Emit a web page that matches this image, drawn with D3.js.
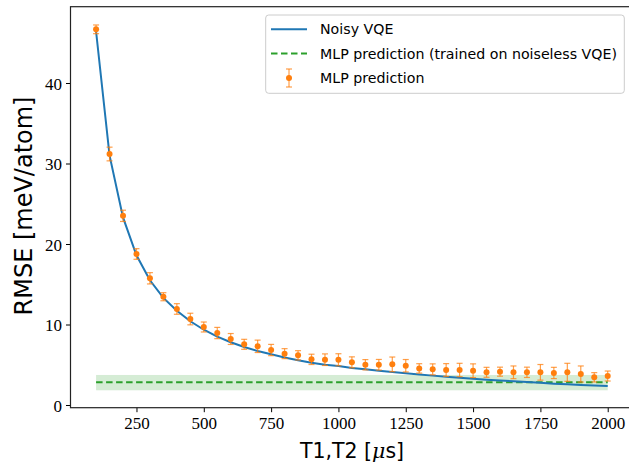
<!DOCTYPE html>
<html>
<head>
<meta charset="utf-8">
<script src="https://cdn.jsdelivr.net/npm/d3@7.9.0/dist/d3.min.js"></script>
<style>
  body { margin: 0; background: #fff; }
  .tick text { font-family: "Liberation Serif", serif; font-size: 17px; fill: #000; }
  .label { font-family: "DejaVu Sans", sans-serif; fill: #000; }
  .legend text { font-family: "DejaVu Sans", sans-serif; font-size: 14.2px; fill: #000; }
</style>
</head>
<body>
<svg id="chart" width="629" height="466"></svg>
<script>
// T1,T2 values [µs]
const times = [100, 150, 200, 250, 300, 350, 400, 450, 500, 550, 600, 650, 700, 750, 800,
  850, 900, 950, 1000, 1050, 1100, 1150, 1200, 1250, 1300, 1350, 1400, 1450, 1500, 1550,
  1600, 1650, 1700, 1750, 1800, 1850, 1900, 1950, 2000];

// Noisy VQE RMSE
const noisyVqe = [46.4, 31.0, 23.3, 18.6, 15.5, 13.3, 11.7, 10.4, 9.35, 8.5, 7.8, 7.2, 6.7,
  6.3, 5.9, 5.55, 5.25, 5.0, 4.85, 4.6, 4.45, 4.25, 4.1, 3.95, 3.8, 3.65, 3.5, 3.4, 3.25,
  3.15, 3.05, 2.95, 2.85, 2.75, 2.65, 2.58, 2.5, 2.43, 2.36];

// MLP prediction mean and std
const mlpMean = [46.67, 31.18, 23.5, 18.76, 15.74, 13.45, 11.93, 10.68, 9.69, 8.94, 8.2,
  7.54, 7.29, 6.83, 6.38, 6.17, 5.67, 5.63, 5.62, 5.3, 5.0, 5.0, 5.05, 4.88, 4.55, 4.43,
  4.35, 4.35, 4.26, 4.06, 4.14, 4.06, 4.06, 4.06, 3.98, 4.06, 3.85, 3.44, 3.6];
const mlpStd = [0.54, 0.85, 0.7, 0.66, 0.7, 0.5, 0.66, 0.72, 0.62, 0.7, 0.68, 0.62, 0.77,
  0.7, 0.62, 0.58, 0.64, 0.72, 0.75, 0.68, 0.64, 0.66, 0.91, 0.77, 0.58, 0.68, 0.79, 0.83,
  0.85, 0.62, 0.56, 0.79, 0.64, 0.97, 0.7, 1.12, 1.0, 0.58, 0.62];

// MLP trained on noiseless VQE: constant value and band
const noiselessMean = 2.82;
const noiselessBand = [1.83, 3.73];

const xTicks = [250, 500, 750, 1000, 1250, 1500, 1750, 2000];
const yTicks = [0, 10, 20, 30, 40];

const blue = '#1f77b4', orange = '#ff7f0e', green = '#2ca02c';

const svg = d3.select('#chart');
const x = d3.scaleLinear().domain([5, 2095]).range([70.5, 633.3]);
const y = d3.scaleLinear().domain([-0.335, 49.48]).range([407.7, 6.7]);

const data = times.map((t, i) => ({ t, vqe: noisyVqe[i], m: mlpMean[i], s: mlpStd[i] }));

// band + dashed line
const xExt = d3.extent(times);
svg.append('rect')
  .attr('x', x(xExt[0])).attr('width', x(xExt[1]) - x(xExt[0]))
  .attr('y', y(noiselessBand[1])).attr('height', y(noiselessBand[0]) - y(noiselessBand[1]))
  .attr('fill', green).attr('fill-opacity', 0.2);

svg.append('line')
  .attr('x1', x(xExt[0])).attr('x2', x(xExt[1]))
  .attr('y1', y(noiselessMean)).attr('y2', y(noiselessMean))
  .attr('stroke', green).attr('stroke-width', 2).attr('stroke-dasharray', '6.5,3.5');

// noisy VQE line
svg.append('path')
  .datum(data)
  .attr('fill', 'none').attr('stroke', blue).attr('stroke-width', 2)
  .attr('d', d3.line().x(d => x(d.t)).y(d => y(d.vqe)));

// error bars
const eb = svg.append('g').attr('stroke', orange).attr('stroke-width', 1.2).attr('stroke-opacity', 0.75);
eb.selectAll('.v').data(data).join('line')
  .attr('x1', d => x(d.t)).attr('x2', d => x(d.t))
  .attr('y1', d => y(d.m - d.s)).attr('y2', d => y(d.m + d.s));
eb.selectAll('.cap').data(data.flatMap(d => [d.m - d.s, d.m + d.s].map(v => ({ t: d.t, v }))))
  .join('line')
  .attr('x1', d => x(d.t) - 3).attr('x2', d => x(d.t) + 3)
  .attr('y1', d => y(d.v)).attr('y2', d => y(d.v));

svg.append('g').selectAll('circle').data(data).join('circle')
  .attr('cx', d => x(d.t)).attr('cy', d => y(d.m)).attr('r', 3)
  .attr('fill', orange);

// axes
const xAxis = svg.append('g').attr('transform', 'translate(0,407.7)')
  .call(d3.axisBottom(x).tickValues(xTicks).tickSize(4.5).tickPadding(5).tickFormat(d3.format('d')));
const yAxis = svg.append('g').attr('transform', 'translate(70.5,0)')
  .call(d3.axisLeft(y).tickValues(yTicks).tickSize(4.5).tickPadding(4).tickFormat(d3.format('d')));
[xAxis, yAxis].forEach(a => {
  a.select('.domain').remove();
  a.selectAll('.tick line').attr('stroke', '#000').attr('stroke-width', 1);
});
yAxis.selectAll('.tick text').attr('dy', '0.36em');

// frame
svg.append('rect')
  .attr('x', 70.5).attr('y', 6.7).attr('width', 633.3 - 70.5).attr('height', 407.7 - 6.7)
  .attr('fill', 'none').attr('stroke', '#222').attr('stroke-width', 1.2);

// axis labels
const xl = svg.append('text').attr('class', 'label')
  .attr('x', 352).attr('y', 458).attr('text-anchor', 'middle').attr('font-size', 20.5);
xl.append('tspan').text('T1,T2 [');
xl.append('tspan').attr('font-family', 'DejaVu Serif').attr('font-style', 'italic').text('μ');
xl.append('tspan').text('s]');

svg.append('text').attr('class', 'label')
  .attr('transform', 'translate(32,206) rotate(-90)')
  .attr('text-anchor', 'middle').attr('font-size', 24)
  .text('RMSE [meV/atom]');

// legend
const lg = svg.append('g').attr('class', 'legend');
lg.append('rect').attr('x', 265.7).attr('y', 15).attr('width', 358.6).attr('height', 78.3)
  .attr('rx', 3).attr('fill', '#fff').attr('fill-opacity', 0.8)
  .attr('stroke', '#ccc').attr('stroke-width', 1);
const rows = [29.2, 53.6, 78];
lg.append('line').attr('x1', 271).attr('x2', 307).attr('y1', rows[0]).attr('y2', rows[0])
  .attr('stroke', blue).attr('stroke-width', 2);
lg.append('line').attr('x1', 271).attr('x2', 307).attr('y1', rows[1]).attr('y2', rows[1])
  .attr('stroke', green).attr('stroke-width', 2).attr('stroke-dasharray', '6.5,3.5');
const lgEb = lg.append('g').attr('stroke', orange).attr('stroke-width', 1.2).attr('stroke-opacity', 0.75);
lgEb.append('line').attr('x1', 289).attr('x2', 289).attr('y1', rows[2] - 9).attr('y2', rows[2] + 9);
lgEb.append('line').attr('x1', 286).attr('x2', 292).attr('y1', rows[2] - 9).attr('y2', rows[2] - 9);
lgEb.append('line').attr('x1', 286).attr('x2', 292).attr('y1', rows[2] + 9).attr('y2', rows[2] + 9);
lg.append('circle').attr('cx', 289).attr('cy', rows[2]).attr('r', 3).attr('fill', orange);
['Noisy VQE', 'MLP prediction (trained on noiseless VQE)', 'MLP prediction'].forEach((t, i) => {
  lg.append('text').attr('x', 320).attr('y', rows[i] + 5).text(t);
});
</script>
</body>
</html>
